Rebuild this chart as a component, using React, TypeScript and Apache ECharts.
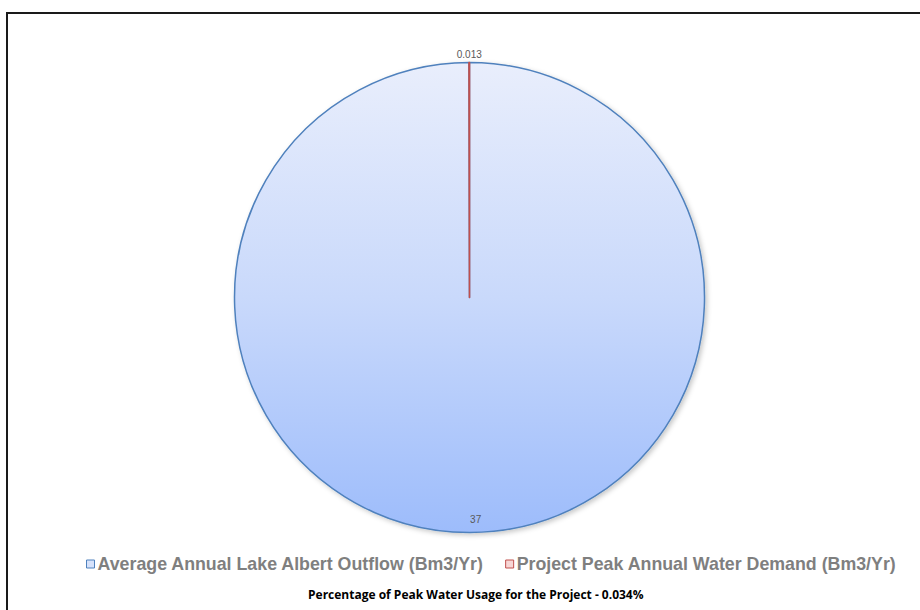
import React, { useEffect, useRef } from "react";
import * as echarts from "echarts";

const categories = [
  "Average Annual Lake Albert Outflow (Bm3/Yr)",
  "Project Peak Annual Water Demand (Bm3/Yr)",
];
const values = [37, 0.013];
const chartTitle = "Percentage of Peak Water Usage for the Project - 0.034%";

export default function App() {
  const ref = useRef<HTMLDivElement>(null);
  useEffect(() => {
    if (!ref.current) return;
    const chart = echarts.init(ref.current, null, { renderer: "svg" });
    const blueFill = new echarts.graphic.LinearGradient(0, 0, 0, 1, [
      { offset: 0, color: "#e9eefc" },
      { offset: 0.5, color: "#c9d9fb" },
      { offset: 1, color: "#9dbcfb" },
    ]);
    chart.setOption({
      animation: false,
      backgroundColor: "#ffffff",
      title: {
        text: chartTitle,
        left: 308,
        top: 588,
        textStyle: {
          fontFamily: "Open Sans",
          fontWeight: "bold",
          fontSize: 12,
          color: "#000000",
        },
        padding: 0,
      },
      legend: {
        left: 86,
        top: 555,
        padding: 0,
        itemWidth: 8,
        itemHeight: 8,
        itemGap: 21,
        icon: "rect",
        data: [
          { name: categories[0], itemStyle: { color: "#d6e2fb", borderColor: "#4f81bd", borderWidth: 1 } },
          { name: categories[1], itemStyle: { color: "#f7d6d5", borderColor: "#c0504d", borderWidth: 1 } },
        ],
        textStyle: {
          fontFamily: "Liberation Sans",
          fontWeight: "bold",
          fontSize: 17.8,
          color: "#7f7f7f",
          padding: [0, 0, 0, -2],
        },
      },
      graphic: [
        {
          type: "rect",
          shape: { x: 7, y: 13, width: 940, height: 640 },
          style: { fill: "none", stroke: "#1a1a1a", lineWidth: 2 },
          silent: true,
        },
      ],
      series: [
        {
          type: "pie",
          center: [469.5, 297.5],
          radius: [0, 235],
          startAngle: 90,
          clockwise: true,
          label: {
            show: true,
            position: "inside",
            fontFamily: "Liberation Sans",
            fontSize: 10,
            color: "#595959",
            formatter: "{c}",
          },
          labelLine: { show: false, length: 0, length2: 0 },
          labelLayout: (p: any) =>
            p.dataIndex === 0
              ? { dy: 102, dx: 6 }
              : { align: "center", verticalAlign: "bottom", dy: -3 },
          emphasis: { disabled: true },
          data: [
            {
              name: categories[0],
              value: values[0],
              itemStyle: {
                color: blueFill,
                borderColor: "#4f81bd",
                borderWidth: 1.5,
                shadowBlur: 5,
                shadowOffsetX: 2,
                shadowOffsetY: 2,
                shadowColor: "rgba(0,0,0,0.22)",
              },
            },
            {
              name: categories[1],
              value: values[1],
              itemStyle: { color: "#c0504d", borderColor: "#c0504d", borderWidth: 1.6 },
              label: { position: "outside", distanceToLabelLine: 0 },
              labelLine: { show: false, length: 0, length2: 0 },
            },
          ],
        },
      ],
    });
    return () => chart.dispose();
  }, []);
  return (
    <div
      ref={ref}
      style={{ position: "absolute", left: 0, top: 0, width: 920, height: 610 }}
    />
  );
}
